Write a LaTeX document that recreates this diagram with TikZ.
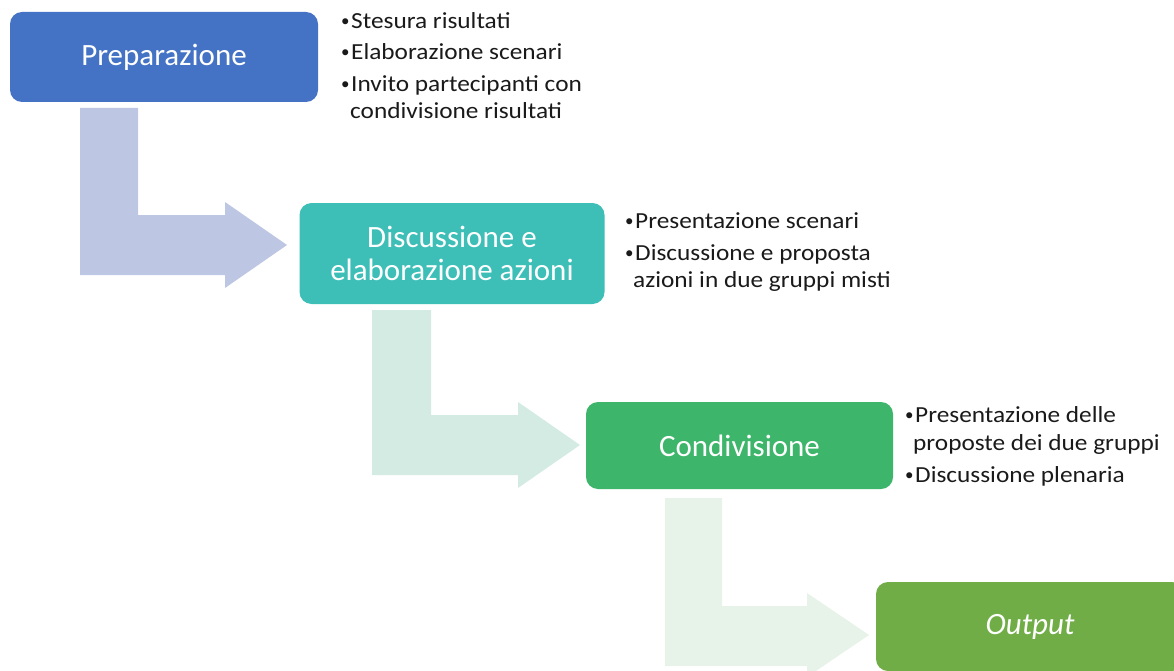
\documentclass[tikz,border=0pt]{standalone}
\usepackage{fontspec}
\setmainfont{Carlito}
\newfontfamily\bulfont[FakeStretch=1.1]{Carlito}
\definecolor{cprep}{HTML}{4472C4}
\definecolor{cdisc}{HTML}{3DBFB8}
\definecolor{ccond}{HTML}{3DB56A}
\definecolor{cout}{HTML}{70AD47}
\definecolor{aone}{HTML}{BDC6E3}
\definecolor{atwo}{HTML}{D4EBE4}
\definecolor{athree}{HTML}{E7F2E9}
\definecolor{ink}{HTML}{1A1A1A}
\begin{document}
\begin{tikzpicture}[x=1pt,y=-1pt,
  box/.style={rounded corners=12pt, inner sep=0pt, text=white,
    font=\fontsize{31}{33}\selectfont, align=center},
  bul/.style={anchor=base west, inner sep=0pt, text=ink,
    font=\bulfont\fontsize{23}{26}\selectfont},
  dot/.style={anchor=base west, inner sep=0pt, text=ink,
    font=\fontsize{17}{20}\selectfont}]
\useasboundingbox (0,0) rectangle (1174,671);
% block arrows
\fill[aone] (80,108) -- (138,108) -- (138,215) -- (225,215) -- (225,202)
  -- (287,245) -- (225,288) -- (225,275) -- (80,275) -- cycle;
\fill[atwo] (372,310) -- (431,310) -- (431,415) -- (518,415) -- (518,402)
  -- (580,445) -- (518,488) -- (518,475) -- (372,475) -- cycle;
\fill[athree] (665,498) -- (722,498) -- (722,606) -- (807,606) -- (807,593)
  -- (869,635) -- (807,677) -- (807,666) -- (665,666) -- cycle;
% boxes
\node[box, fill=cprep, minimum width=308pt, minimum height=90pt] (prep) at (164,57) {Preparazione};
\node[box, fill=cdisc, minimum width=305pt, minimum height=101pt] (disc) at (452,253.5) {Discussione e\\elaborazione azioni};
\node[box, fill=ccond, minimum width=307pt, minimum height=87pt] (cond) at (739.5,445.5) {Condivisione};
\node[box, fill=cout, minimum width=308pt, minimum height=89pt] (outp) at (1030,626.5) {\itshape Output};
% bullets block 1
\node[dot] (b1a) at (341,27) {•};
\node[bul] (t1a) at (351,29) {Stesura risultati};
\node[dot] (b1b) at (341,58) {•};
\node[bul] (t1b) at (351,60) {Elaborazione scenari};
\node[dot] (b1c) at (341,90) {•};
\node[bul] (t1c) at (351,92) {Invito partecipanti con};
\node[bul] (t1d) at (350,119) {condivisione risultati};
% bullets block 2
\node[dot] (b2a) at (625,226) {•};
\node[bul] (t2a) at (635,228) {Presentazione scenari};
\node[dot] (b2b) at (625,258) {•};
\node[bul] (t2b) at (635,260) {Discussione e proposta};
\node[bul] (t2c) at (633,287) {azioni in due gruppi misti};
% bullets block 3
\node[dot] (b3a) at (905,420) {•};
\node[bul] (t3a) at (915,422) {Presentazione delle};
\node[bul] (t3b) at (913,450) {proposte dei due gruppi};
\node[dot] (b3c) at (905,480) {•};
\node[bul] (t3c) at (915,482) {Discussione plenaria};
\end{tikzpicture}
\end{document}
